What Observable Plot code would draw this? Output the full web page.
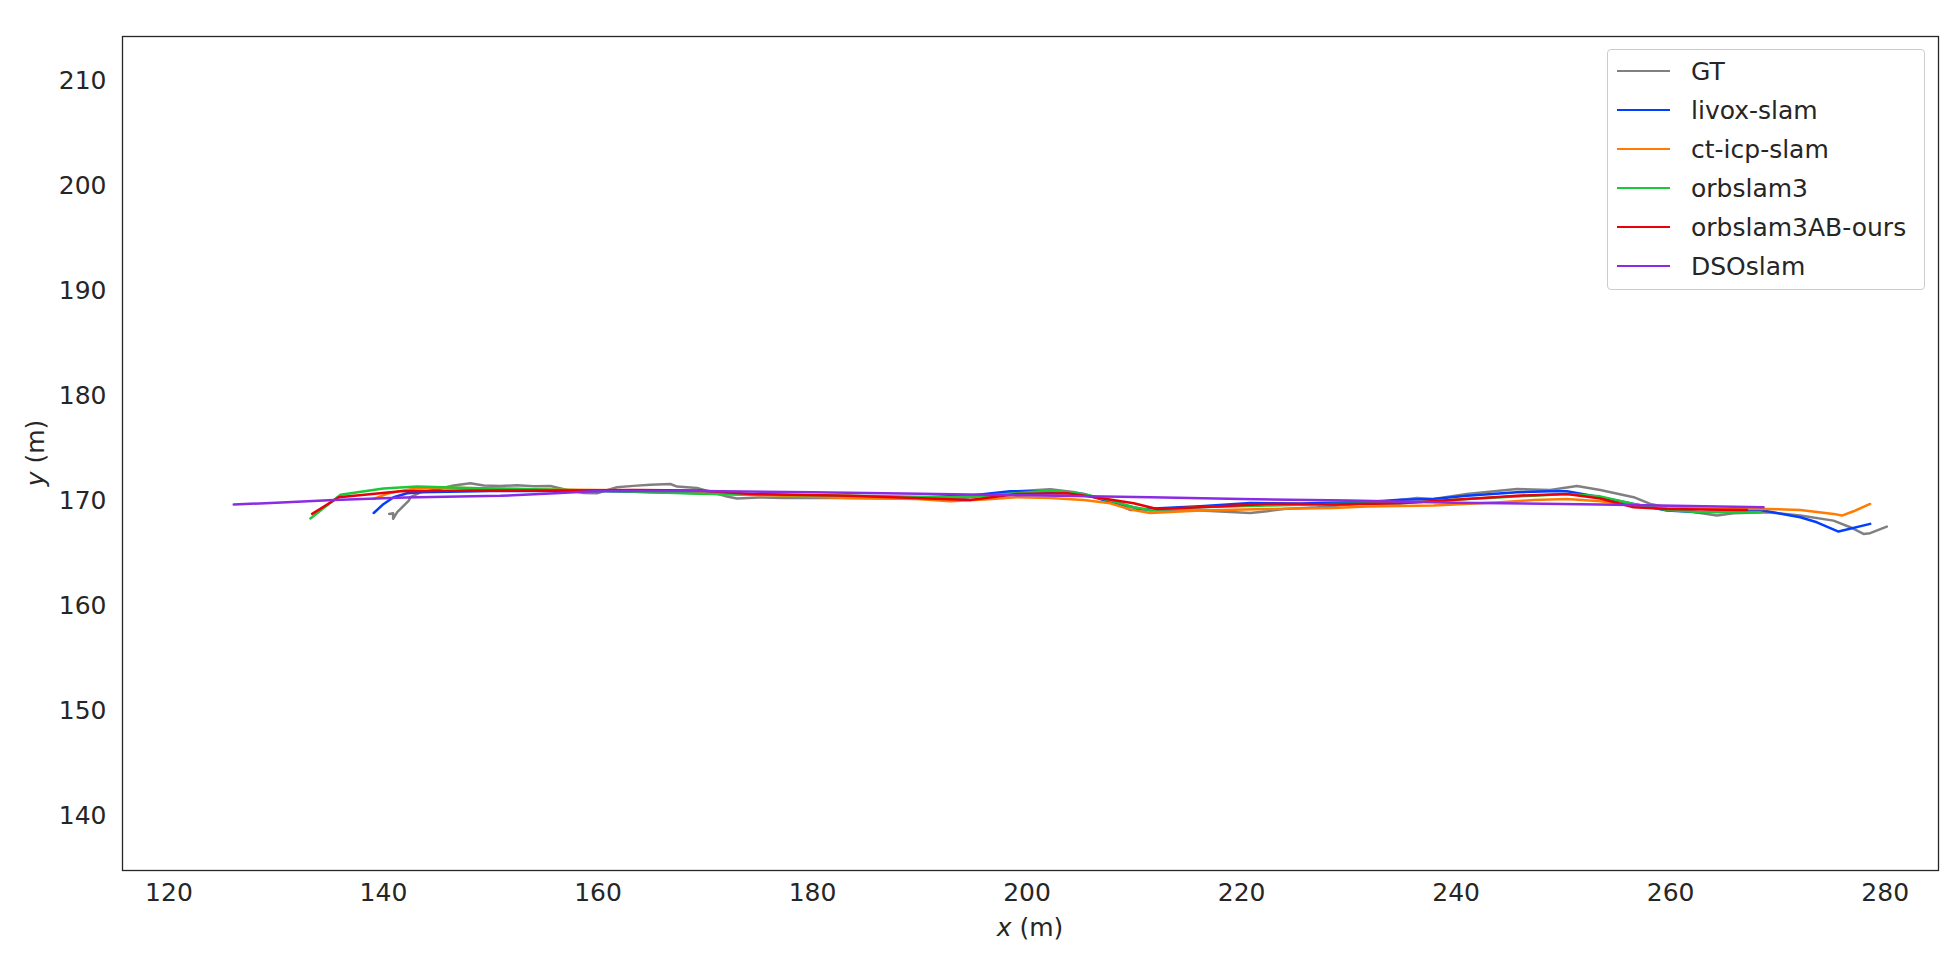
<!DOCTYPE html>
<html>
<head>
<meta charset="utf-8">
<script src="https://cdn.jsdelivr.net/npm/d3@7"></script>
<script src="https://cdn.jsdelivr.net/npm/@observablehq/plot@0.6"></script>
<style>
  html, body { margin: 0; padding: 0; background: #fff; }
  #wrap { position: relative; width: 1952px; height: 959px; font-family: "DejaVu Sans", sans-serif; color: #262626; }
  #legend { position: absolute; left: 1607px; top: 49px; width: 318px; height: 241px; box-sizing: border-box;
            border: 1px solid #cccccc; border-radius: 4px; background: rgba(255,255,255,0.8); }
  .lrow { position: absolute; left: 0; height: 39px; display: flex; align-items: center; font-size: 25px; white-space: nowrap; }
  .lswatch { width: 53px; height: 0; border-top: 2.5px solid; margin-left: 9px; margin-right: 21px; }
</style>
</head>
<body>
<div id="wrap"></div>
<script>
// ---- data ----
const seriesNames = ["GT", "livox-slam", "ct-icp-slam", "orbslam3", "orbslam3AB-ours", "DSOslam"];
const seriesColors = ["#808080", "#023eff", "#ff7c00", "#1ac938", "#e8000b", "#8b2be2"];
const xTicks = [120, 140, 160, 180, 200, 220, 240, 260, 280];
const yTicks = [140, 150, 160, 170, 180, 190, 200, 210];

const gtX = [140.53,140.9,140.9,141.28,142.36,142.52,143.45,144.69,146.55,148.1,149.35,150.9,152.45,154,155.56,157.11,158.66,159.9,161.77,163.3,164.87,166.75,167.37,169.23,172.03,172.96,175,177.31,182.28,188,194,197,199.06,202.17,204.65,206.5,208.38,211.49,216.15,220.81,222.36,223.92,227.02,231.68,234,236.34,237.9,241.0,245.66,248.77,251.26,253.44,256.55,258.1,261.2,264.31,265.87,268.97,272.08,275.18,276.74,277.98,278.6,280.15];
const gtY = [168.78,168.84,168.31,168.94,170.05,170.37,170.84,171.06,171.48,171.7,171.48,171.45,171.5,171.42,171.44,171.06,170.78,170.75,171.32,171.45,171.55,171.63,171.38,171.25,170.43,170.24,170.35,170.3,170.3,170.25,170.3,170.6,170.94,171.13,170.81,170.3,169.73,169.1,169.1,168.87,169.03,169.25,169.41,169.79,170.0,170.3,170.2,170.68,171.16,171.06,171.44,171.05,170.37,169.73,169.1,168.62,168.84,168.94,168.62,168.14,167.51,166.87,166.94,167.57];

const livoxX = [139.09,140.02,140.95,142.2,143.44,150,160,170,180,190,195,198.44,202.17,205.28,206.83,208.39,209.63,211.8,216.15,220.81,225.47,231.68,234.79,237.9,241.0,245.66,248.78,250.33,253.44,256.55,259.65,262.76,268.35,272.08,273.63,275.65,278.6];
const livoxY = [168.87,169.73,170.37,170.75,170.84,170.95,170.95,170.75,170.5,170.35,170.55,170.94,170.9,170.68,170.21,169.73,169.16,169.29,169.51,169.83,169.76,169.92,170.13,170.21,170.52,170.84,170.94,170.94,170.37,169.73,169.1,168.94,169.16,168.46,167.98,167.1,167.83];

const cticpX = [139.1,140.34,141.5,143,145,150,155,160,164.89,171.1,177.31,183.53,189.74,192.85,196,199.06,202.17,205.27,207.76,209.63,211.49,216.15,222.36,228.57,231.68,237.9,244.11,247.22,250.33,253.44,256.55,259.65,265.87,268.97,272.08,275.18,275.96,277.05,278.6];
const cticpY = [170.21,170.69,170.95,171.2,171.3,171.2,171.1,171.05,171.0,170.68,170.52,170.3,170.21,169.98,170.15,170.37,170.3,170.1,169.79,169.2,168.87,169.1,169.25,169.35,169.48,169.57,169.89,170.1,170.21,169.98,169.57,169.35,169.25,169.25,169.16,168.78,168.62,169.03,169.73];

const orbX = [133.19,136.0,140,143.14,147.8,157.11,163.33,169.52,174.21,183.53,192.85,196,199.06,202.17,205.27,208.38,209.93,211.49,216.15,222.36,228.57,234.79,241.0,247.22,250.33,253.43,256.55,259.65,262.76,268.35];
const orbY = [168.35,170.6,171.2,171.38,171.25,171.06,170.9,170.7,170.62,170.52,170.37,170.5,170.75,171.0,170.68,169.89,169.41,169.16,169.41,169.57,169.73,169.79,170.21,170.52,170.68,170.45,169.73,169.16,168.94,168.94];

const oursX = [133.35,135.83,141.59,147.8,157.11,163.33,169.52,174.21,183.53,194.71,199.06,203.72,206.83,209.94,212.11,216.15,222.36,225.47,228.57,234.79,241.0,245.66,250.33,253.43,256.55,259.65,263,267.11];
const oursY = [168.78,170.37,170.94,171.0,171.0,171.06,171.0,170.68,170.52,170.1,170.68,170.75,170.3,169.79,169.25,169.41,169.73,169.73,169.67,169.79,170.21,170.52,170.68,170.25,169.41,169.25,169.2,169.16];

const dsoX = [126.04,130,135.37,142,150.9,156,160,169.55,180,190,200,211.5,220,230,240,253.4,268.66];
const dsoY = [169.67,169.85,170.1,170.35,170.5,170.75,170.95,170.95,170.85,170.7,170.55,170.37,170.2,170.05,169.85,169.67,169.41];

const xsBySeries = [gtX, livoxX, cticpX, orbX, oursX, dsoX];
const ysBySeries = [gtY, livoxY, cticpY, orbY, oursY, dsoY];

// ---- build table ----
const tables = seriesNames.map((name, i) =>
  xsBySeries[i].map((x, j) => ({series: name, x, y: ysBySeries[i][j]}))
);

const plot = Plot.plot({
  width: 1952,
  height: 959,
  marginLeft: 122,
  marginRight: 14,
  marginTop: 36,
  marginBottom: 89,
  x: {domain: [115.67, 284.97]},
  y: {domain: [134.8, 214.27]},
  color: {domain: seriesNames, range: seriesColors},
  style: {fontFamily: "DejaVu Sans", fontSize: "25px", color: "#262626", background: "white", overflow: "visible"},
  marks: [
    Plot.axisX(xTicks, {tickSize: 0, tickPadding: 13, label: null, fontSize: 25}),
    Plot.axisY(yTicks, {tickSize: 0, tickPadding: 16, label: null, fontSize: 25}),
    ...tables.map((t) => Plot.line(t, {x: "x", y: "y", stroke: "series", strokeWidth: 2.5, strokeLinejoin: "round", strokeLinecap: "round"})),
    Plot.frame({stroke: "#262626", strokeWidth: 1.3})
  ]
});

const wrap = document.getElementById("wrap");
wrap.appendChild(plot);

// axis labels with italic variable names
const xs = plot.scale("x"), ys = plot.scale("y");
const svg = d3.select(plot);
const xMid = (xs.range[0] + xs.range[1]) / 2;
const yMid = (ys.range[0] + ys.range[1]) / 2;
const xl = svg.append("text").attr("x", xMid).attr("y", ys.range[0] + 57).attr("dy", "0.35em")
  .attr("text-anchor", "middle").attr("font-size", 25).attr("fill", "#262626");
xl.append("tspan").attr("font-style", "italic").text("x");
xl.append("tspan").text(" (m)");
const yl = svg.append("text").attr("transform", `translate(35,${yMid}) rotate(-90)`).attr("dy", "0.35em")
  .attr("text-anchor", "middle").attr("font-size", 25).attr("fill", "#262626");
yl.append("tspan").attr("font-style", "italic").text("y");
yl.append("tspan").text(" (m)");

// legend
const legend = document.createElement("div");
legend.id = "legend";
seriesNames.forEach((name, i) => {
  const row = document.createElement("div");
  row.className = "lrow";
  row.style.top = (1.5 + i * 39) + "px";
  const sw = document.createElement("div");
  sw.className = "lswatch";
  sw.style.borderTopColor = seriesColors[i];
  const lab = document.createElement("span");
  lab.textContent = name;
  row.appendChild(sw);
  row.appendChild(lab);
  legend.appendChild(row);
});
wrap.appendChild(legend);
</script>
</body>
</html>
